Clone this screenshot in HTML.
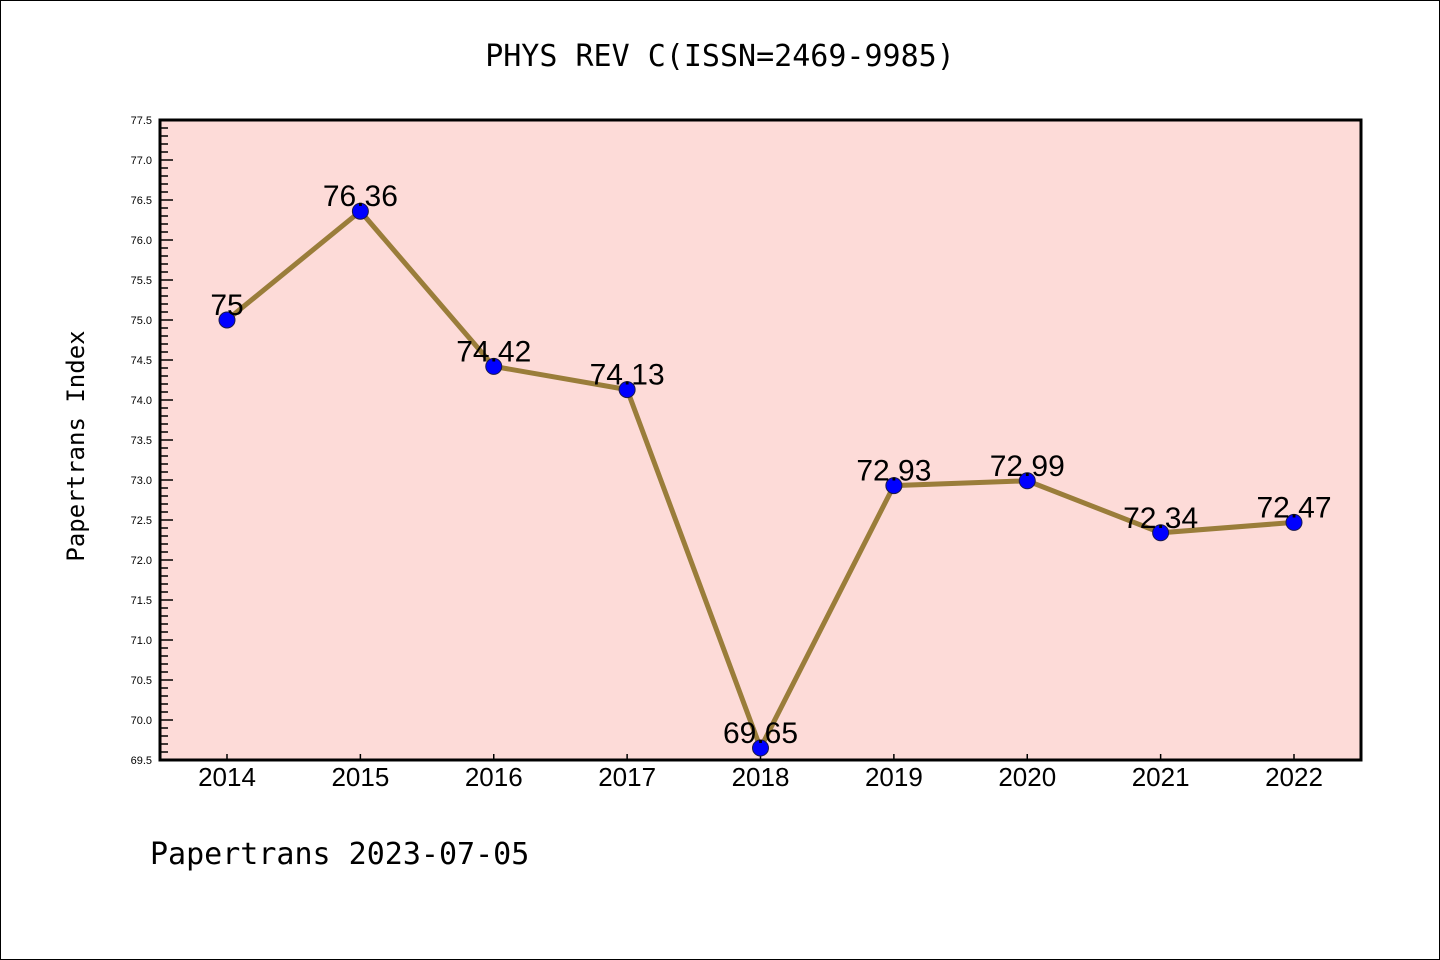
<!DOCTYPE html>
<html><head><meta charset="utf-8"><style>
body{margin:0;background:#fff}
svg{display:block;font-family:"Liberation Sans","DejaVu Sans",sans-serif}
</style></head><body>
<svg id="chart" width="1440" height="960">
<rect x="0.5" y="0.5" width="1439" height="959" fill="#fff" stroke="#000"/>
<text x="720" y="66" font-size="30" text-anchor="middle" font-family="DejaVu Sans Mono, Liberation Mono, monospace">PHYS REV C(ISSN=2469-9985)</text>
<rect x="160" y="120" width="1201" height="640" fill="#fddbd8"/>
<g id="yaxis"></g>
<g id="xaxis"></g>
<g id="series"></g>
<rect x="160" y="120" width="1201" height="640" fill="none" stroke="#000" stroke-width="3"/>
<text transform="translate(84,446) rotate(-90)" font-size="24" text-anchor="middle" font-family="DejaVu Sans Mono, Liberation Mono, monospace">Papertrans Index</text>
<text x="150" y="864" font-size="30" font-family="DejaVu Sans Mono, Liberation Mono, monospace">Papertrans 2023-07-05</text>
</svg>
<script>
const years = ["2014","2015","2016","2017","2018","2019","2020","2021","2022"];
const values = [75, 76.36, 74.42, 74.13, 69.65, 72.93, 72.99, 72.34, 72.47];
const valueLabels = ["75","76.36","74.42","74.13","69.65","72.93","72.99","72.34","72.47"];
const yMin = 69.5, yMax = 77.5;
const NS="http://www.w3.org/2000/svg";
function X(i){return 227+i*(1294-227)/(years.length-1);}
function Y(v){return 760-(v-yMin)/(yMax-yMin)*640;}
function mk(t,a,p){const e=document.createElementNS(NS,t);for(const k in a)e.setAttribute(k,a[k]);p.appendChild(e);return e;}
const ya=document.getElementById('yaxis'),xa=document.getElementById('xaxis'),se=document.getElementById('series');
for(let k=0;k<=80;k++){const v=yMin+k*0.1,y=Y(v),maj=k%5===0;
 const l=mk('line',{x1:160,x2:160+(maj?13:8),y1:y,y2:y,stroke:'#000','stroke-width':1.5},ya);
 
 
 if(maj){const t=mk('text',{x:152,y:y+4,'font-size':11,'text-anchor':'end'},ya);t.textContent=v.toFixed(1);
 
 }}
years.forEach((yr,i)=>{const x=X(i);
 const l=mk('line',{x1:x,x2:x,y1:760,y2:754,stroke:'#000','stroke-width':1.5},xa);
 
 
 const t=mk('text',{x:x,y:786,'font-size':26,'text-anchor':'middle'},xa);t.textContent=yr;
 
 });
const pl=mk('polyline',{points:values.map((v,i)=>X(i)+','+Y(v)).join(' '),fill:'none',stroke:'#9a7d3a','stroke-width':5},se);


values.forEach((v,i)=>{
 const c=mk('circle',{cx:X(i),cy:Y(v),r:8,fill:'#0000ff',stroke:'#1a1a4a','stroke-width':1},se);
 
 
 const t=mk('text',{x:X(i),y:Y(v)-5,'font-size':30,'text-anchor':'middle'},se);t.textContent=valueLabels[i];
 
 });
</script>
</body></html>
